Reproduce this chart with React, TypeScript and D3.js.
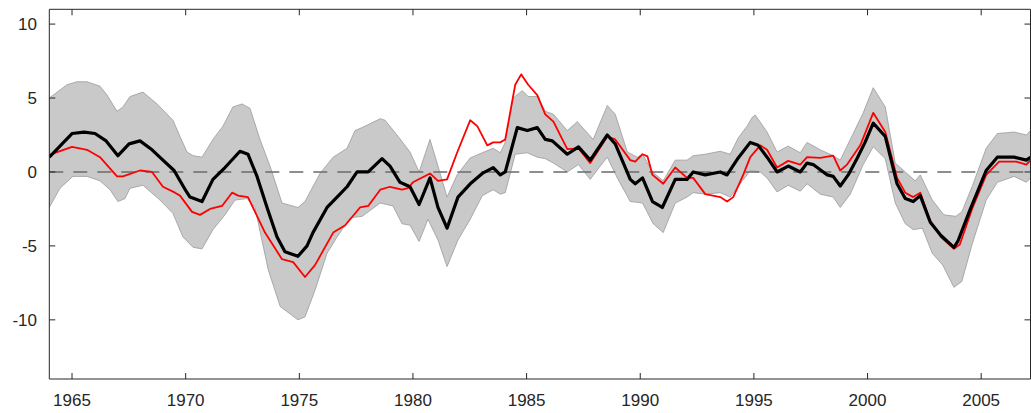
import * as React from 'react';
import * as d3 from 'd3';

type Pt = [number, number];

const yTicks = [-10, -5, 0, 5, 10];
const xTicks = [1965, 1970, 1975, 1980, 1985, 1990, 1995, 2000, 2005];

const blackLine: Pt[] = [
  [1964.0, 1.0], [1964.5, 1.8], [1965.0, 2.6], [1965.53, 2.7], [1966.01, 2.6], [1966.5, 2.1],
  [1967.02, 1.1], [1967.51, 1.9], [1967.99, 2.1], [1968.52, 1.5], [1969.0, 0.8], [1969.49, 0.1],
  [1970.02, -1.3], [1970.19, -1.7], [1970.72, -2.0], [1971.2, -0.5], [1971.73, 0.3], [1972.39, 1.4],
  [1972.74, 1.2], [1973.14, -0.3], [1973.58, -2.4], [1974.02, -4.4], [1974.37, -5.4], [1974.94, -5.7],
  [1975.34, -5.0], [1975.6, -4.1], [1976.22, -2.4], [1976.66, -1.7], [1977.1, -1.0], [1977.54, 0.0],
  [1978.03, 0.0], [1978.64, 0.9], [1978.99, 0.4], [1979.43, -0.7], [1979.87, -1.0], [1980.27, -2.2],
  [1980.75, -0.4], [1981.1, -2.4], [1981.5, -3.8], [1981.98, -1.7], [1982.52, -0.8], [1983.05, -0.1],
  [1983.53, 0.3], [1983.84, -0.2], [1984.06, 0.0], [1984.59, 3.0], [1985.03, 2.8], [1985.47, 3.0],
  [1985.82, 2.2], [1986.13, 2.1], [1986.79, 1.2], [1987.28, 1.7], [1987.8, 0.8], [1988.55, 2.5],
  [1988.9, 1.9], [1989.56, -0.5], [1989.78, -0.8], [1990.1, -0.4], [1990.54, -2.0], [1990.97, -2.4],
  [1991.54, -0.5], [1992.06, -0.5], [1992.33, 0.0], [1992.86, -0.2], [1993.52, 0.0], [1993.82, -0.2],
  [1994.31, 0.95], [1994.84, 2.0], [1995.19, 1.8], [1995.58, 1.0], [1996.02, 0.0], [1996.51, 0.4],
  [1997.04, 0.0], [1997.34, 0.6], [1997.61, 0.5], [1998.23, -0.2], [1998.49, -0.3], [1998.8, -0.95],
  [1999.15, -0.2], [1999.55, 0.95], [1999.89, 2.0], [2000.25, 3.3], [2000.78, 2.4], [2001.3, -0.8],
  [2001.66, -1.8], [2002.01, -2.0], [2002.32, -1.6], [2002.76, -3.4], [2003.23, -4.3], [2003.8, -5.1],
  [2003.97, -4.7], [2004.5, -2.6], [2005.22, 0.1], [2005.71, 1.0], [2006.45, 1.0], [2006.99, 0.8],
  [2007.17, 1.0]
];

const redLine: Pt[] = [
  [1964.0, 1.15], [1965.0, 1.7], [1965.66, 1.5], [1966.23, 1.0], [1966.98, -0.3], [1967.24, -0.3],
  [1967.99, 0.1], [1968.52, 0.0], [1969.0, -1.0], [1969.53, -1.4], [1969.75, -1.6], [1970.28, -2.7],
  [1970.63, -2.9], [1971.07, -2.5], [1971.6, -2.3], [1972.04, -1.4], [1972.31, -1.6], [1972.74, -1.7],
  [1973.49, -4.1], [1974.24, -5.9], [1974.73, -6.1], [1975.25, -7.1], [1975.69, -6.3], [1976.49, -4.1],
  [1977.02, -3.6], [1977.67, -2.4], [1978.03, -2.3], [1978.56, -1.2], [1978.99, -1.0], [1979.52, -1.2],
  [1979.78, -1.1], [1980.0, -0.7], [1980.75, -0.1], [1981.1, -0.6], [1981.5, -0.5], [1981.94, 1.3],
  [1982.52, 3.5], [1982.83, 3.1], [1983.27, 1.8], [1983.53, 2.0], [1983.84, 2.0], [1984.06, 2.2],
  [1984.5, 5.9], [1984.76, 6.6], [1985.07, 5.9], [1985.47, 5.2], [1985.82, 3.9], [1986.18, 3.4],
  [1986.79, 1.55], [1987.28, 1.6], [1987.8, 0.6], [1988.55, 2.4], [1988.9, 2.2], [1989.56, 0.8],
  [1989.78, 0.7], [1990.1, 1.2], [1990.32, 1.05], [1990.54, -0.2], [1991.01, -0.8], [1991.54, 0.3],
  [1992.06, -0.4], [1992.33, -0.4], [1992.86, -1.5], [1993.52, -1.7], [1993.82, -2.0], [1994.09, -1.7],
  [1994.53, -0.2], [1994.84, 1.0], [1995.28, 1.8], [1995.58, 1.5], [1996.02, 0.3], [1996.51, 0.75],
  [1997.04, 0.5], [1997.34, 1.0], [1997.92, 0.95], [1998.49, 1.1], [1998.8, 0.1], [1999.1, 0.5],
  [1999.68, 1.8], [2000.25, 4.0], [2000.78, 2.7], [2001.3, -0.4], [2001.66, -1.4], [2002.01, -1.7],
  [2002.32, -1.4], [2002.76, -3.3], [2003.23, -4.4], [2003.8, -5.2], [2004.06, -4.9], [2004.6, -2.5],
  [2005.22, -0.2], [2005.79, 0.7], [2006.54, 0.7], [2006.99, 0.5], [2007.17, 0.8]
];

const bandUpper: Pt[] = [
  [1964.0, 5.0], [1964.78, 5.9], [1965.22, 6.1], [1965.66, 6.1], [1966.23, 5.8], [1966.54, 5.2],
  [1966.98, 4.1], [1967.24, 4.4], [1967.55, 5.1], [1968.12, 5.4], [1968.74, 4.6], [1969.44, 3.5],
  [1969.75, 2.4], [1970.06, 1.35], [1970.33, 1.1], [1970.72, 1.0], [1971.2, 2.2], [1971.64, 3.1],
  [1972.08, 4.4], [1972.48, 4.6], [1972.83, 4.3], [1973.27, 2.2], [1973.71, 0.4], [1974.24, -2.1],
  [1974.94, -2.4], [1975.25, -2.0], [1975.91, -0.1], [1976.49, 1.0], [1977.1, 1.6], [1977.45, 2.8],
  [1977.76, 3.0], [1978.56, 3.6], [1978.77, 3.5], [1979.35, 2.4], [1979.87, 1.35], [1980.27, 0.0],
  [1980.75, 2.2], [1981.1, 0.4], [1981.5, -1.7], [1981.94, -0.2], [1982.52, 0.95], [1983.05, 1.3],
  [1983.53, 1.6], [1983.84, 1.3], [1984.06, 2.0], [1984.41, 5.0], [1984.81, 5.5], [1985.07, 5.1],
  [1985.47, 5.1], [1985.82, 4.1], [1986.18, 3.9], [1986.79, 2.8], [1987.23, 3.4], [1987.58, 2.8],
  [1987.93, 2.2], [1988.55, 4.5], [1988.9, 3.9], [1989.43, 1.35], [1989.87, 1.0], [1990.1, 1.2],
  [1990.54, 0.0], [1991.01, -0.6], [1991.54, 0.8], [1992.06, 0.8], [1992.33, 1.1], [1992.86, 1.2],
  [1993.52, 1.4], [1993.96, 1.2], [1994.31, 2.3], [1994.7, 3.1], [1994.93, 3.7], [1995.06, 3.85],
  [1995.58, 2.7], [1996.02, 1.35], [1996.51, 1.75], [1997.04, 1.3], [1997.34, 2.0], [1997.92, 1.5],
  [1998.49, 1.1], [1998.8, 0.8], [1999.37, 2.6], [1999.81, 4.0], [2000.25, 5.7], [2000.78, 4.4],
  [2001.22, 0.6], [2001.66, 0.0], [2002.1, -0.6], [2002.32, -0.2], [2002.85, -1.9], [2003.36, -2.9],
  [2003.88, -3.0], [2004.15, -2.7], [2004.6, -1.0], [2005.22, 1.6], [2005.71, 2.6], [2006.45, 2.7],
  [2006.99, 2.5], [2007.17, 2.8]
];

const bandLower: Pt[] = [
  [1964.0, -2.4], [1964.47, -1.1], [1965.04, -0.3], [1965.66, -0.3], [1966.23, -0.6], [1966.67, -1.2],
  [1967.02, -2.0], [1967.33, -1.8], [1967.55, -1.1], [1968.12, -0.9], [1968.87, -1.9], [1969.44, -2.8],
  [1969.88, -4.4], [1970.33, -5.1], [1970.72, -5.2], [1971.2, -3.9], [1971.73, -2.9], [1972.17, -1.9],
  [1972.7, -1.8], [1973.05, -2.4], [1973.63, -6.6], [1974.16, -9.1], [1974.94, -10.0], [1975.25, -9.8],
  [1975.69, -8.0], [1976.22, -5.5], [1976.66, -4.4], [1977.23, -3.1], [1977.76, -3.0], [1978.12, -2.6],
  [1978.56, -2.1], [1979.12, -2.3], [1979.52, -3.5], [1979.87, -3.6], [1980.27, -4.7], [1980.66, -3.2],
  [1981.1, -4.6], [1981.5, -6.4], [1981.98, -4.6], [1982.52, -3.2], [1983.05, -1.6], [1983.53, -1.2],
  [1983.84, -1.5], [1984.06, -1.4], [1984.5, 1.2], [1985.03, 1.3], [1985.47, 1.0], [1985.82, 0.9],
  [1986.18, 0.6], [1986.79, 0.0], [1987.28, 0.5], [1987.8, -0.5], [1988.24, 0.4], [1988.55, 1.0],
  [1988.99, -0.4], [1989.56, -2.0], [1990.1, -2.1], [1990.57, -3.5], [1991.01, -4.1], [1991.54, -2.1],
  [1992.06, -1.7], [1992.33, -1.4], [1992.86, -1.5], [1993.52, -1.4], [1993.96, -1.7], [1994.4, -0.8],
  [1994.84, 0.1], [1995.28, 0.0], [1995.58, -0.4], [1996.02, -1.35], [1996.51, -0.9], [1997.04, -1.3],
  [1997.34, -0.8], [1997.92, -1.5], [1998.49, -1.7], [1998.8, -2.4], [1999.24, -1.5], [1999.81, 0.5],
  [2000.25, 1.7], [2000.78, 0.9], [2001.22, -2.1], [2001.66, -3.5], [2002.01, -3.9], [2002.41, -3.8],
  [2002.85, -5.5], [2003.31, -6.3], [2003.8, -7.8], [2004.15, -7.4], [2004.6, -4.9], [2005.22, -1.9],
  [2005.71, -0.7], [2006.45, -0.3], [2006.99, -0.7], [2007.17, -0.4]
];

const W = 1031;
const H = 413;
const m = { left: 49.3, right: 1030.5, top: 9.3, bottom: 379 };
const FONT = 'Liberation Sans, Arial, sans-serif';

export default function App() {
  const x = d3.scaleLinear().domain([1964, 2007.17]).range([m.left, m.right]);
  const y = d3.scaleLinear().domain([-14, 11]).range([m.bottom, m.top]);
  const line = d3.line<Pt>().x(d => x(d[0])).y(d => y(d[1]));
  const bandPts = [...bandUpper, ...[...bandLower].reverse()];
  const tk = 6;

  return (
    <svg width={W} height={H} style={{ position: 'absolute', left: 0, top: 0 }}>
      <defs>
        <clipPath id="plot">
          <rect x={m.left} y={m.top} width={m.right - m.left} height={m.bottom - m.top} />
        </clipPath>
      </defs>
      <g clipPath="url(#plot)">
        <path d={line(bandPts) + 'Z'} fill="#c9c9c9" stroke="#9a9a9a" strokeWidth={0.8} />
        <line x1={m.left} x2={m.right} y1={y(0)} y2={y(0)} stroke="#6b6b6b" strokeWidth={1.6} strokeDasharray="14 10" />
        <path d={line(redLine) ?? ''} fill="none" stroke="#ff0000" strokeWidth={1.8} strokeLinejoin="round" />
        <path d={line(blackLine) ?? ''} fill="none" stroke="#000" strokeWidth={3.2} strokeLinejoin="round" />
      </g>
      <g stroke="#262626" strokeWidth={1} fill="none">
        <line x1={m.left} x2={m.left} y1={m.top} y2={m.bottom} />
        <line x1={m.right} x2={m.right} y1={m.top} y2={m.bottom} />
        <line x1={m.left} x2={m.right} y1={m.top} y2={m.top} />
        <line x1={m.left} x2={m.right} y1={m.bottom} y2={m.bottom} />
        {xTicks.map(t => (
          <g key={t}>
            <line x1={x(t)} x2={x(t)} y1={m.bottom} y2={m.bottom - tk} />
            <line x1={x(t)} x2={x(t)} y1={m.top} y2={m.top + tk} />
          </g>
        ))}
        {yTicks.map(t => (
          <g key={t}>
            <line x1={m.left} x2={m.left + tk} y1={y(t)} y2={y(t)} />
            <line x1={m.right} x2={m.right - tk} y1={y(t)} y2={y(t)} />
          </g>
        ))}
      </g>
      <g fill="#262626" fontFamily={FONT} fontSize={17}>
        {xTicks.map(t => (
          <text key={t} x={x(t)} y={406} textAnchor="middle">{t}</text>
        ))}
        {yTicks.map(t => (
          <text key={t} x={37} y={y(t)} dy="0.35em" textAnchor="end">{t}</text>
        ))}
      </g>
    </svg>
  );
}
